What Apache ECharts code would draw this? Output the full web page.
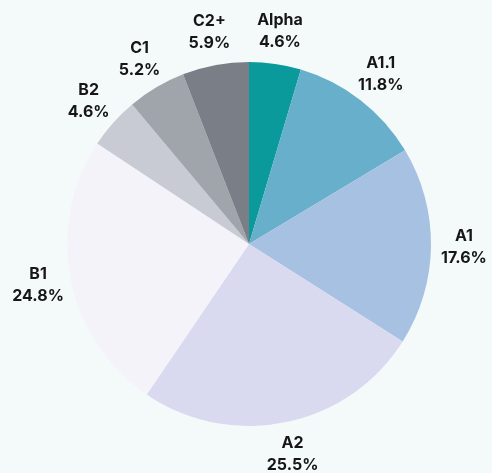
<!DOCTYPE html>
<html>
<head>
<meta charset="utf-8">
<script src="https://cdn.jsdelivr.net/npm/echarts@6/dist/echarts.min.js"></script>
<style>
html,body{margin:0;padding:0;background:#f4fafa;}
#c{width:492px;height:473px;}
</style>
</head>
<body>
<div id="c"></div>
<script>
var categories = ['Alpha', 'A1.1', 'A1', 'A2', 'B1', 'B2', 'C1', 'C2+'];
var shares = [4.6, 11.8, 17.6, 25.5, 24.8, 4.6, 5.2, 5.9];
var colors = ['#0b9a9c', '#67afca', '#a7c1e2', '#d9d9ef', '#f5f3fa', '#c8cbd3', '#a0a5ac', '#7a7f87'];

var data = categories.map(function (n, i) {
  return { name: n, value: shares[i], itemStyle: { color: colors[i] } };
});
var labelData = categories.map(function (n, i) {
  return { name: n, value: shares[i] };
});

var chart = echarts.init(document.getElementById('c'), null, { renderer: 'canvas' });
chart.setOption({
  backgroundColor: '#f4fafa',
  animation: false,
  series: [
    {
      type: 'pie',
      center: [249, 244],
      radius: [0, 182],
      startAngle: 90,
      clockwise: true,
      silent: true,
      label: { show: false },
      labelLine: { show: false },
      itemStyle: { borderWidth: 0 },
      data: data
    },
    {
      type: 'pie',
      center: [249, 244],
      radius: [208, 216],
      startAngle: 90,
      clockwise: true,
      silent: true,
      itemStyle: { color: 'rgba(0,0,0,0)', borderWidth: 0 },
      label: {
        show: true,
        position: 'inside',
        formatter: function (p) { return p.name + '\n' + p.value.toFixed(1) + '%'; },
        color: '#161616',
        fontFamily: 'Inter, "Liberation Sans", sans-serif',
        fontWeight: 'bold',
        fontSize: 16,
        lineHeight: 22,
        align: 'center'
      },
      labelLine: { show: false },
      data: labelData
    }
  ]
});
</script>
</body>
</html>
